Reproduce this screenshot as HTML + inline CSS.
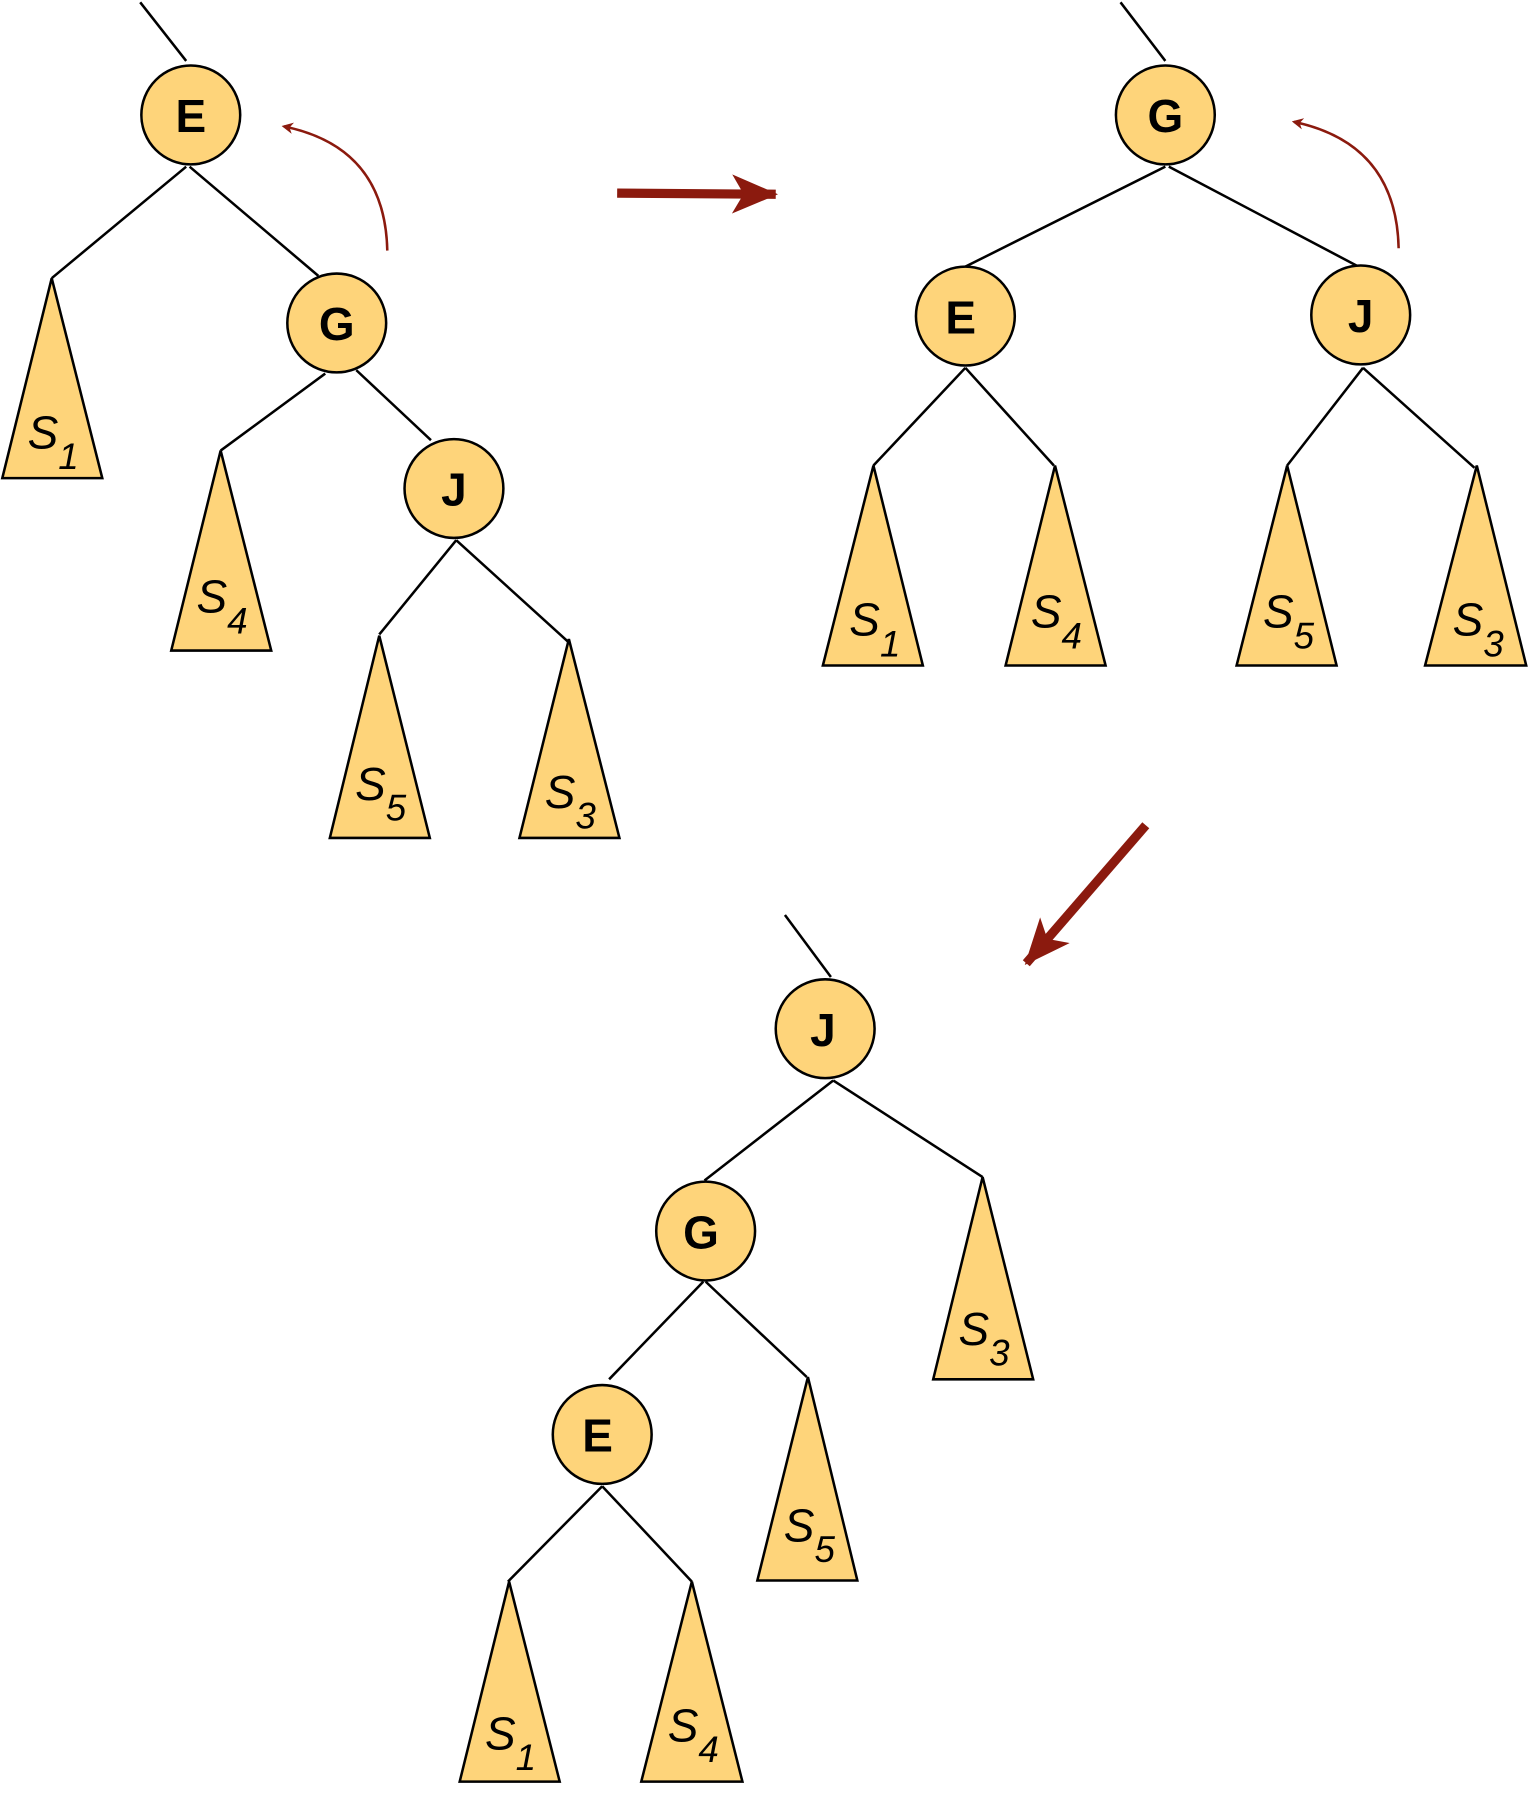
<!DOCTYPE html>
<html><head><style>html,body{margin:0;padding:0;background:#fff}svg{display:block}</style></head><body>
<svg width="1540" height="1800" viewBox="0 0 1340 1566" preserveAspectRatio="none" xmlns="http://www.w3.org/2000/svg">
<defs>
<marker id="ah" markerWidth="10" markerHeight="10" refX="8" refY="5" orient="auto" markerUnits="userSpaceOnUse"><path d="M0,0 L10,5 L0,10 L3,5 Z" fill="#8b1a0e"/></marker>
<marker id="bh" markerWidth="40" markerHeight="34" refX="38" refY="17" orient="auto" markerUnits="userSpaceOnUse"><path d="M0,0 L40,17 L0,34 L10,17 Z" fill="#8b1a0e"/></marker>
</defs>
<g stroke="#000" stroke-width="2.2" fill="none">
<line x1="122" y1="2" x2="162" y2="53"/>
<line x1="162" y1="145" x2="45" y2="242"/>
<line x1="165" y1="145" x2="277" y2="240"/>
<line x1="283" y1="325" x2="192" y2="392"/>
<line x1="310" y1="322" x2="375" y2="383"/>
<line x1="397" y1="470" x2="330" y2="552"/>
<line x1="397" y1="470" x2="494" y2="558"/>
<line x1="975" y1="2" x2="1014" y2="53"/>
<line x1="1014" y1="145" x2="840" y2="232"/>
<line x1="1017" y1="145" x2="1186" y2="234"/>
<line x1="840" y1="320" x2="760" y2="405"/>
<line x1="840" y1="320" x2="917" y2="405"/>
<line x1="1186" y1="320" x2="1120" y2="405"/>
<line x1="1186" y1="320" x2="1283" y2="407"/>
<line x1="683" y1="796" x2="723" y2="850"/>
<line x1="725" y1="940" x2="613" y2="1027"/>
<line x1="725" y1="940" x2="855" y2="1024"/>
<line x1="612" y1="1115" x2="530" y2="1200"/>
<line x1="614" y1="1115" x2="702" y2="1198"/>
<line x1="524" y1="1293" x2="442" y2="1376"/>
<line x1="524" y1="1293" x2="602" y2="1376"/>
</g>
<g stroke="#000" stroke-width="2.2" fill="#fed47a">
<polygon points="45,242 2,416 89,416"/>
<polygon points="192,392 149,566 236,566"/>
<polygon points="330,553 287,729 374,729"/>
<polygon points="495,556 452,729 539,729"/>
<polygon points="760,405 716,579 803,579"/>
<polygon points="918,405 875,579 962,579"/>
<polygon points="1120,405 1076,579 1163,579"/>
<polygon points="1285,405 1240,579 1328,579"/>
<polygon points="855,1024 812,1200 899,1200"/>
<polygon points="703,1198 659,1375 746,1375"/>
<polygon points="443,1376 400,1550 487,1550"/>
<polygon points="602,1376 558,1550 646,1550"/>
<circle cx="166" cy="100" r="43"/>
<circle cx="293" cy="281" r="43"/>
<circle cx="395" cy="425" r="43"/>
<circle cx="1014" cy="100" r="43"/>
<circle cx="840" cy="275" r="43"/>
<circle cx="1184" cy="274" r="43"/>
<circle cx="718" cy="895" r="43"/>
<circle cx="614" cy="1071" r="43"/>
<circle cx="524" cy="1248" r="43"/>
</g>
<g font-family="Liberation Sans, sans-serif" font-weight="bold" font-size="40" text-anchor="middle" fill="#000">
<text x="166" y="115">E</text><text x="293" y="296">G</text><text x="395" y="440">J</text>
<text x="1014" y="115">G</text><text x="836" y="290">E</text><text x="1184" y="289">J</text>
<text x="716" y="910">J</text><text x="610" y="1086">G</text><text x="520" y="1263">E</text>
</g>
<g font-family="Liberation Sans, sans-serif" font-style="italic" font-size="40" fill="#000">
<text x="24" y="390">S<tspan font-size="32" dy="18">1</tspan></text>
<text x="171" y="533">S<tspan font-size="32" dy="18">4</tspan></text>
<text x="309" y="696">S<tspan font-size="32" dy="18">5</tspan></text>
<text x="474" y="703">S<tspan font-size="32" dy="18">3</tspan></text>
<text x="739" y="553">S<tspan font-size="32" dy="18">1</tspan></text>
<text x="897" y="546">S<tspan font-size="32" dy="18">4</tspan></text>
<text x="1099" y="546">S<tspan font-size="32" dy="18">5</tspan></text>
<text x="1264" y="553">S<tspan font-size="32" dy="18">3</tspan></text>
<text x="834" y="1170">S<tspan font-size="32" dy="18">3</tspan></text>
<text x="682" y="1341">S<tspan font-size="32" dy="18">5</tspan></text>
<text x="422" y="1522">S<tspan font-size="32" dy="18">1</tspan></text>
<text x="581" y="1515">S<tspan font-size="32" dy="18">4</tspan></text>
</g>
<g stroke="#8b1a0e" fill="none">
<path d="M337,218 Q335,128 247,110" stroke-width="2.2" marker-end="url(#ah)"/>
<path d="M1217,216 Q1215,125 1126,106" stroke-width="2.2" marker-end="url(#ah)"/>
<line x1="537" y1="168" x2="675" y2="169" stroke-width="8" marker-end="url(#bh)"/>
<line x1="997" y1="718" x2="893" y2="838" stroke-width="8" marker-end="url(#bh)"/>
</g>
</svg>
</body></html>
